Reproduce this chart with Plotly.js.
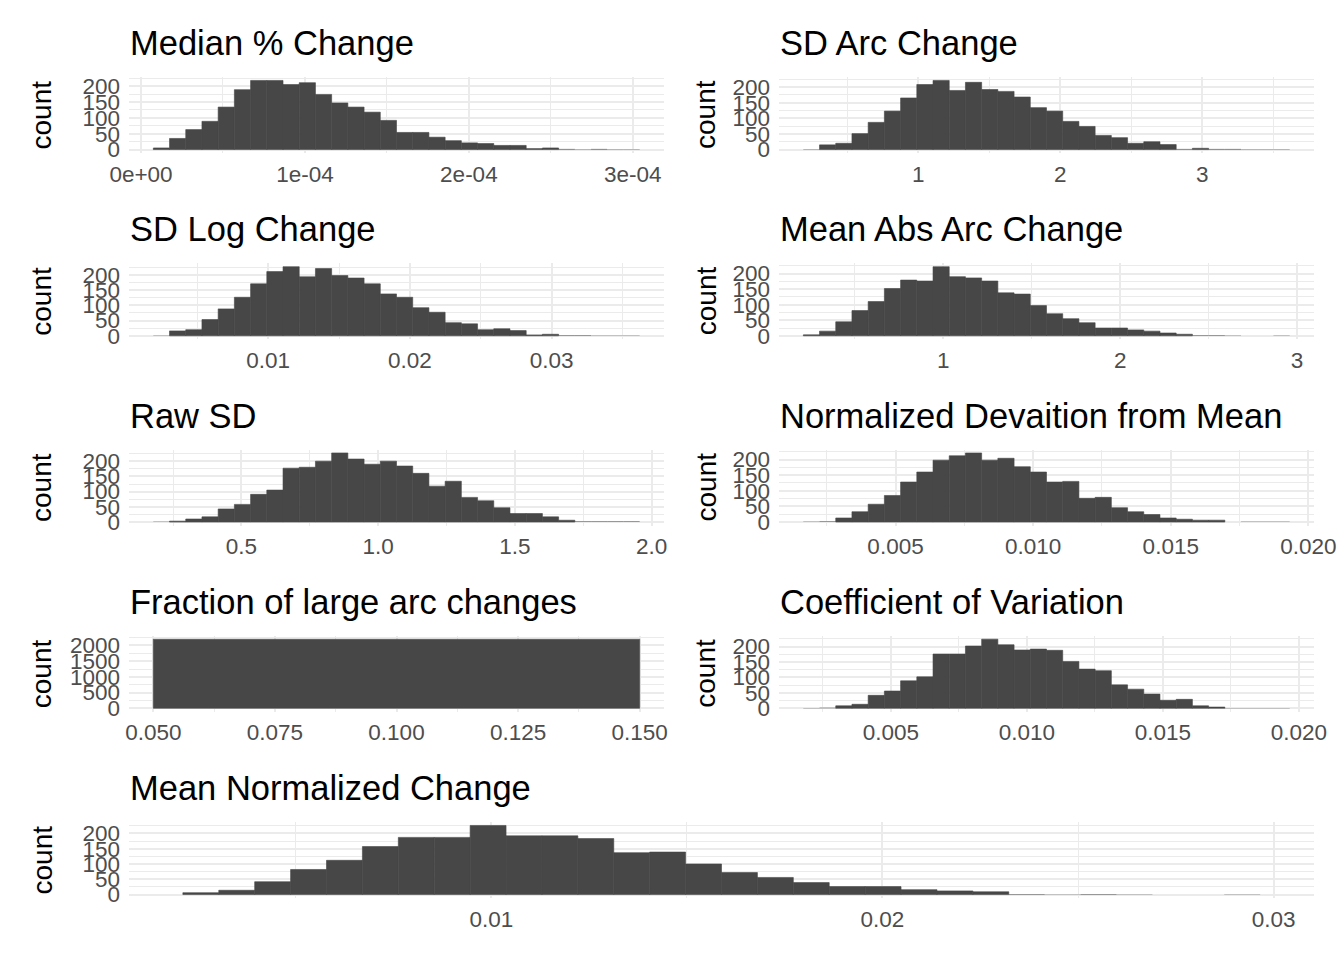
<!DOCTYPE html>
<html>
<head>
<meta charset="utf-8">
<script src="https://cdn.plot.ly/plotly-3.0.1.min.js"></script>
<style>
html, body { margin: 0; padding: 0; background: #ffffff; }
#chart { width: 1344px; height: 960px; }
</style>
</head>
<body>
<div id="chart"></div>
<script>
// ---------------- data ----------------
const panelTitles = ["Median % Change", "SD Arc Change", "SD Log Change", "Mean Abs Arc Change",
  "Raw SD", "Normalized Devaition from Mean", "Fraction of large arc changes",
  "Coefficient of Variation", "Mean Normalized Change"];
const yTitle = "count";

// bin start (left edge of first bin) and bin width, then counts per bin
const medianPctStart = 7.5e-6, medianPctWidth = 9.89e-6;
const medianPctCounts = [5,35,63,89,134,189,218,218,205,211,174,147,134,118,92,54,54,39,28,21,19,13,13,3,5,2,1,2,1,1];
const medianPctTickVals = [0, 1e-4, 2e-4, 3e-4];
const medianPctTickText = ["0e+00", "1e-04", "2e-04", "3e-04"];

const sdArcStart = 0.1917, sdArcWidth = 0.1141;
const sdArcCounts = [1,15,20,51,87,123,165,208,221,189,215,192,186,168,134,123,90,74,45,38,20,25,16,2,4,2,2,1,1,1];
const sdArcTickVals = [1, 2, 3];
const sdArcTickText = ["1", "2", "3"];

const sdLogStart = 0.001894, sdLogWidth = 0.001144;
const sdLogCounts = [1,16,20,53,88,126,170,210,226,193,220,197,189,170,137,126,92,77,43,39,20,23,17,3,5,2,2,1,1,1];
const sdLogTickVals = [0.01, 0.02, 0.03];
const sdLogTickText = ["0.01", "0.02", "0.03"];

const meanAbsArcStart = 0.21, meanAbsArcWidth = 0.0916;
const meanAbsArcCounts = [3,15,45,81,110,152,179,176,222,190,186,176,138,134,97,71,55,42,25,25,19,15,9,5,2,2,1,0,0,1];
const meanAbsArcTickVals = [1, 2, 3];
const meanAbsArcTickText = ["1", "2", "3"];

const rawSdStart = 0.1777, rawSdWidth = 0.0593;
const rawSdCounts = [1,3,10,17,43,58,91,105,177,180,200,227,207,190,200,184,160,118,134,81,70,47,28,28,17,6,2,2,2,2];
const rawSdTickVals = [0.5, 1.0, 1.5, 2.0];
const rawSdTickText = ["0.5", "1.0", "1.5", "2.0"];

const normDevStart = 0.00165, normDevWidth = 0.000589;
const normDevCounts = [1,2,13,33,57,85,128,160,198,212,221,198,204,177,160,128,130,76,79,46,33,24,13,9,6,6,0,1,1,1];
const normDevTickVals = [0.005, 0.010, 0.015, 0.020];
const normDevTickText = ["0.005", "0.010", "0.015", "0.020"];

const fractionStart = 0.05, fractionWidth = 0.1;
const fractionCounts = [2200];
const fractionTickVals = [0.050, 0.075, 0.100, 0.125, 0.150];
const fractionTickText = ["0.050", "0.075", "0.100", "0.125", "0.150"];

const coefVarStart = 0.001782, coefVarWidth = 0.000596;
const coefVarCounts = [1,2,8,13,42,56,89,102,176,176,202,224,206,189,192,188,152,127,122,76,62,46,26,29,8,4,1,1,1,1];
const coefVarTickVals = [0.005, 0.010, 0.015, 0.020];
const coefVarTickText = ["0.005", "0.010", "0.015", "0.020"];

const meanNormStart = 0.002115, meanNormWidth = 0.000918;
const meanNormCounts = [6,14,42,82,112,157,187,187,226,192,192,183,137,139,100,72,56,39,26,26,16,12,9,2,1,2,1,0,0,1];
const meanNormTickVals = [0.01, 0.02, 0.03];
const meanNormTickText = ["0.01", "0.02", "0.03"];

// ---------------- layout geometry ----------------
const W = 1344, H = 960;
const colSpan = [[129, 664], [779, 1314], [129, 1314]];
const countX = [41.5, 706];
const rowTop0 = 77, rowH = 76, rowStep = 186.25, titleY0 = 43;

const panels = [
  {start: medianPctStart, width: medianPctWidth, counts: medianPctCounts, tv: medianPctTickVals, tt: medianPctTickText, minor: 5e-5, col: 0, row: 0, ydt: 50},
  {start: sdArcStart, width: sdArcWidth, counts: sdArcCounts, tv: sdArcTickVals, tt: sdArcTickText, minor: 0.5, col: 1, row: 0, ydt: 50},
  {start: sdLogStart, width: sdLogWidth, counts: sdLogCounts, tv: sdLogTickVals, tt: sdLogTickText, minor: 0.005, col: 0, row: 1, ydt: 50},
  {start: meanAbsArcStart, width: meanAbsArcWidth, counts: meanAbsArcCounts, tv: meanAbsArcTickVals, tt: meanAbsArcTickText, minor: 0.5, col: 1, row: 1, ydt: 50},
  {start: rawSdStart, width: rawSdWidth, counts: rawSdCounts, tv: rawSdTickVals, tt: rawSdTickText, minor: 0.25, col: 0, row: 2, ydt: 50},
  {start: normDevStart, width: normDevWidth, counts: normDevCounts, tv: normDevTickVals, tt: normDevTickText, minor: 0.0025, col: 1, row: 2, ydt: 50},
  {start: fractionStart, width: fractionWidth, counts: fractionCounts, tv: fractionTickVals, tt: fractionTickText, minor: 0.0125, col: 0, row: 3, ydt: 500},
  {start: coefVarStart, width: coefVarWidth, counts: coefVarCounts, tv: coefVarTickVals, tt: coefVarTickText, minor: 0.0025, col: 1, row: 3, ydt: 50},
  {start: meanNormStart, width: meanNormWidth, counts: meanNormCounts, tv: meanNormTickVals, tt: meanNormTickText, minor: 0.005, col: 2, row: 4, ydt: 50}
];

const FONT = "Liberation Sans, Arial, Helvetica, sans-serif";
const GRID = "#EBEBEB";
const BAR = "#474747";

const traces = [];
const layout = {
  width: W, height: H,
  margin: {l: 0, r: 0, t: 0, b: 0},
  paper_bgcolor: "#ffffff", plot_bgcolor: "#ffffff",
  showlegend: false,
  font: {family: FONT, color: "#000000"},
  annotations: []
};

panels.forEach((p, i) => {
  const n = i + 1;
  const xs = p.counts.map((c, k) => p.start + (k + 0.5) * p.width);
  traces.push({
    type: "bar", x: xs, y: p.counts, width: p.width,
    xaxis: "x" + n, yaxis: "y" + n,
    marker: {color: BAR, line: {color: BAR, width: p.counts.map(c => (c > 2 ? 0.6 : 0))}},
    hoverinfo: "x+y"
  });
  const lo = p.start, hi = p.start + p.counts.length * p.width;
  const ex = 0.05 * (hi - lo);
  const maxC = Math.max(...p.counts);
  const [l, r] = colSpan[p.col];
  const top = rowTop0 + rowStep * p.row, bot = top + rowH;
  layout["xaxis" + n] = {
    domain: [l / W, r / W], anchor: "y" + n,
    range: [lo - ex, hi + ex],
    tickmode: "array", tickvals: p.tv, ticktext: p.tt,
    showgrid: true, gridcolor: GRID, gridwidth: 2,
    minor: {tickmode: "linear", tick0: 0, dtick: p.minor, showgrid: true, gridcolor: GRID, gridwidth: 1, ticks: ""},
    zeroline: false, showline: false, ticks: "",
    ticklabelstandoff: 5,
    tickfont: {family: FONT, size: 22.5, color: "#4D4D4D"},
    fixedrange: true
  };
  layout["yaxis" + n] = {
    domain: [1 - bot / H, 1 - top / H], anchor: "x" + n,
    range: [-0.05 * maxC, 1.05 * maxC],
    tickmode: "linear", tick0: 0, dtick: p.ydt,
    showgrid: true, gridcolor: GRID, gridwidth: 2,
    minor: {tickmode: "linear", tick0: 0, dtick: p.ydt / 2, showgrid: true, gridcolor: GRID, gridwidth: 1, ticks: ""},
    zeroline: false, showline: false, ticks: "",
    ticklabelstandoff: 8,
    tickfont: {family: FONT, size: 22.5, color: "#4D4D4D"},
    fixedrange: true
  };
  // panel title
  layout.annotations.push({
    text: panelTitles[i], xref: "paper", yref: "paper",
    x: (l - 1) / W, y: 1 - (titleY0 + rowStep * p.row) / H,
    xanchor: "left", yanchor: "middle", showarrow: false,
    font: {family: FONT, size: 34.5, color: "#000000"}
  });
  // y axis title
  layout.annotations.push({
    text: yTitle, xref: "paper", yref: "paper",
    x: countX[p.col === 1 ? 1 : 0] / W, y: 1 - (top + rowH / 2) / H,
    xanchor: "center", yanchor: "middle", textangle: -90, showarrow: false,
    font: {family: FONT, size: 28, color: "#000000"}
  });
});

Plotly.newPlot("chart", traces, layout, {displayModeBar: false, staticPlot: true});
</script>
</body>
</html>
